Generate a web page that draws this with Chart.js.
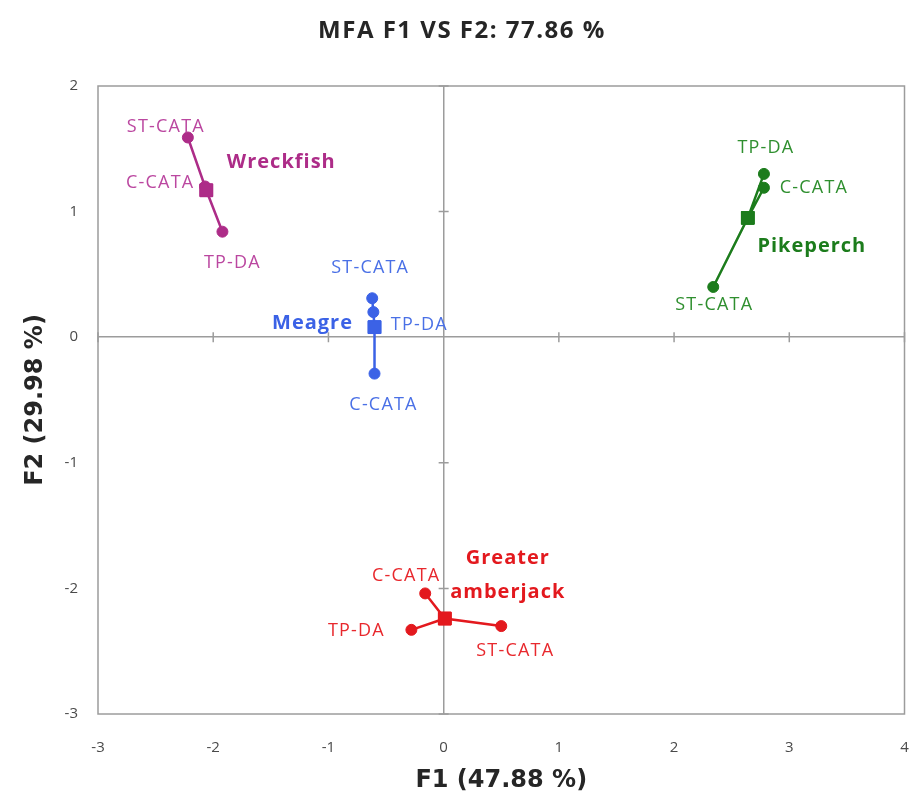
<!DOCTYPE html>
<html>
<head>
<meta charset="utf-8">
<script src="https://cdn.jsdelivr.net/npm/chart.js@4.4.1/dist/chart.umd.min.js"></script>
<style>
  html, body { margin: 0; padding: 0; background: #fff; }
  #wrap { width: 911px; height: 811px; }
</style>
</head>
<body>
<div id="wrap"><canvas id="mfaChart"></canvas></div>
<script>
// Data (MFA factor map, F1 vs F2)
const groups = ['Wreckfish', 'Pikeperch', 'Meagre', 'Greater amberjack'];
const methods = ['ST-CATA', 'C-CATA', 'TP-DA'];

// per group: [ST-CATA, C-CATA, TP-DA]
const wreckfishX = [-2.22, -2.07, -1.92];
const wreckfishY = [1.59, 1.20, 0.84];
const pikeperchX = [2.34, 2.78, 2.78];
const pikeperchY = [0.40, 1.19, 1.30];
const meagreX = [-0.62, -0.60, -0.61];
const meagreY = [0.31, -0.29, 0.20];
const amberjackX = [0.50, -0.16, -0.28];
const amberjackY = [-2.30, -2.04, -2.33];

// group centroids (squares)
const centroidX = [-2.06, 2.64, -0.60, 0.01];
const centroidY = [1.17, 0.95, 0.08, -2.24];

const xTicks = [-3, -2, -1, 0, 1, 2, 3, 4];
const yTicks = [-3, -2, -1, 0, 1, 2];

const groupColors = ['#ad2c88', '#1c7c1c', '#3b62e6', '#e3191e'];
const labelColors = ['#bb47a0', '#2f8f2f', '#4a70e6', '#e8282d'];

const allX = [wreckfishX, pikeperchX, meagreX, amberjackX];
const allY = [wreckfishY, pikeperchY, meagreY, amberjackY];

// star shape: ST -> centroid -> C -> centroid -> TP
function starData(g) {
    const xs = allX[g], ys = allY[g];
    const c = { x: centroidX[g], y: centroidY[g] };
    return [
        { x: xs[0], y: ys[0] }, c,
        { x: xs[1], y: ys[1] }, c,
        { x: xs[2], y: ys[2] }
    ];
}

const datasets = groups.map((name, g) => ({
    label: name,
    data: starData(g),
    showLine: true,
    borderColor: groupColors[g],
    backgroundColor: groupColors[g],
    borderWidth: 2.5,
    pointStyle: ['circle', 'rect', 'circle', 'rect', 'circle'],
    pointRadius: [5.5, 9, 5.5, 9, 5.5],
    pointBorderWidth: 1,
    pointBorderColor: groupColors[g]
}));

// label offsets in px from the point: [ST, C, TP], then group name from centroid
const methodOffsets = [
    [[-22, -11], [-45, -4], [10, 31]],
    [[1, 18], [50, 0], [2, -26]],
    [[-2, -30], [9, 31], [46, 13]],
    [[14, 25], [-19, -18], [-55, 1]]
];
const nameOffsets = [[75, -28], [64, 28], [-62, -4], [63, -43]];
const nameLines = [['Wreckfish'], ['Pikeperch'], ['Meagre'], ['Greater', 'amberjack']];

const frame = {
    id: 'frame',
    beforeDatasetsDraw(chart) {
        const { ctx, chartArea: a, scales } = chart;
        ctx.save();
        ctx.strokeStyle = '#9c9c9c';
        ctx.lineWidth = 1.5;
        ctx.strokeRect(a.left, a.top, a.right - a.left, a.bottom - a.top);
        // small cross ticks on the zero axes
        const x0 = scales.x.getPixelForValue(0);
        const y0 = scales.y.getPixelForValue(0);
        ctx.beginPath();
        xTicks.forEach(v => {
            if (v === 0) return;
            const px = scales.x.getPixelForValue(v);
            ctx.moveTo(px, y0 - 5);
            ctx.lineTo(px, y0 + 5);
        });
        yTicks.forEach(v => {
            if (v === 0) return;
            const py = scales.y.getPixelForValue(v);
            ctx.moveTo(x0 - 5, py);
            ctx.lineTo(x0 + 5, py);
        });
        ctx.stroke();
        ctx.restore();
    },
    afterDraw(chart) {
        const { ctx, scales } = chart;
        ctx.save();
        ctx.textAlign = 'center';
        ctx.textBaseline = 'middle';
        if ('letterSpacing' in ctx) ctx.letterSpacing = '1.5px';
        ctx.fillStyle = '#262626';
        ctx.font = 'bold 24px "Open Sans"';
        ctx.fillText('MFA F1 VS F2: 77.86 %', 462, 31);

        groups.forEach((name, g) => {
            if ('letterSpacing' in ctx) ctx.letterSpacing = '1.2px';
            ctx.fillStyle = labelColors[g];
            ctx.font = '18px "Open Sans"';
            methods.forEach((m, i) => {
                const px = scales.x.getPixelForValue(allX[g][i]) + methodOffsets[g][i][0];
                const py = scales.y.getPixelForValue(allY[g][i]) + methodOffsets[g][i][1];
                ctx.fillText(m, px, py);
            });
            if ('letterSpacing' in ctx) ctx.letterSpacing = '1px';
            ctx.fillStyle = groupColors[g];
            ctx.font = 'bold 20px "Open Sans"';
            const cx = scales.x.getPixelForValue(centroidX[g]) + nameOffsets[g][0];
            const cy = scales.y.getPixelForValue(centroidY[g]) + nameOffsets[g][1];
            const lines = nameLines[g];
            lines.forEach((t, k) => {
                ctx.fillText(t, cx, cy + (k - (lines.length - 1) / 2) * 34);
            });
        });
        ctx.restore();
    }
};

new Chart(document.getElementById('mfaChart'), {
    type: 'scatter',
    data: { datasets },
    plugins: [frame],
    options: {
        responsive: true,
        maintainAspectRatio: false,
        animation: false,
        layout: { padding: { top: 86, right: 6, left: 0, bottom: 0 } },
        plugins: {
            legend: { display: false },
            title: { display: false },
            tooltip: { enabled: false }
        },
        scales: {
            x: {
                type: 'linear',
                min: -3,
                max: 4,
                afterBuildTicks: s => { s.ticks = xTicks.map(v => ({ value: v })); },
                afterFit: s => { s.height = 97; s.paddingLeft = 0; s.paddingRight = 0; },
                ticks: { padding: 25, color: '#4a4a4a', font: { family: 'Open Sans', size: 15 } },
                grid: {
                    drawTicks: false,
                    lineWidth: 1.5,
                    color: c => (c.tick && c.tick.value === 0 ? '#9c9c9c' : 'transparent')
                },
                border: { display: false },
                title: {
                    display: true,
                    text: 'F1 (47.88 %)',
                    color: '#262626',
                    font: { family: 'DejaVu Sans', size: 24, weight: 'bold' },
                    padding: { top: 16, bottom: 16 }
                }
            },
            y: {
                type: 'linear',
                min: -3,
                max: 2,
                afterBuildTicks: s => { s.ticks = yTicks.map(v => ({ value: v })); },
                afterFit: s => { s.width = 98; s.paddingTop = 0; s.paddingBottom = 0; },
                ticks: { padding: 20, color: '#4a4a4a', font: { family: 'Open Sans', size: 15 } },
                grid: {
                    drawTicks: false,
                    lineWidth: 1.5,
                    color: c => (c.tick && c.tick.value === 0 ? '#9c9c9c' : 'transparent')
                },
                border: { display: false },
                title: {
                    display: true,
                    text: 'F2 (29.98 %)',
                    color: '#262626',
                    font: { family: 'DejaVu Sans', size: 24, weight: 'bold' },
                    padding: { top: 21, bottom: 21 }
                }
            }
        }
    }
});
</script>
</body>
</html>
